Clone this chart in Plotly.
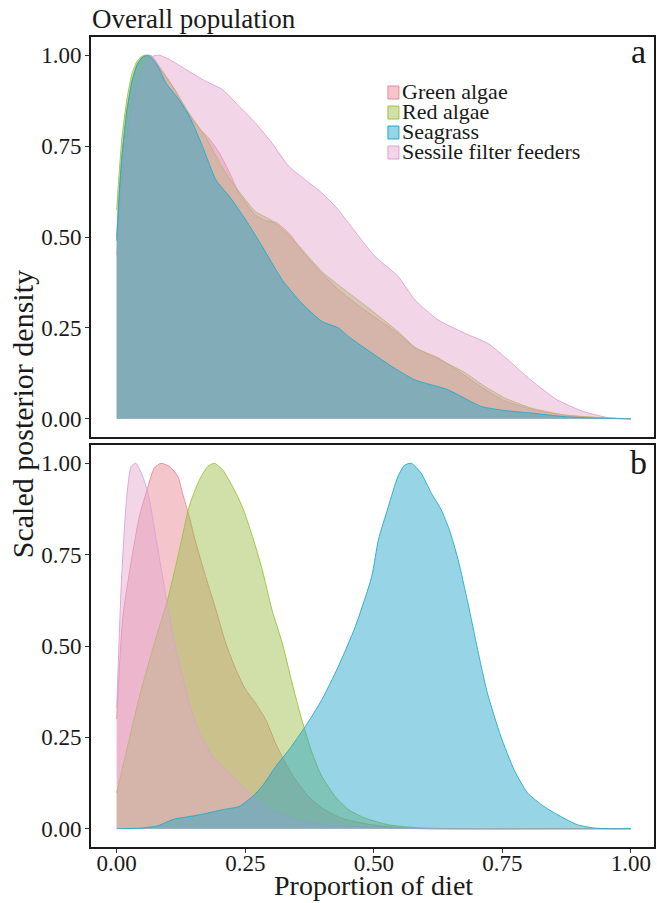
import plotly.graph_objects as go

# ---------------- data ----------------
series_names = ["Green algae", "Red algae", "Seagrass", "Sessile filter feeders"]

# Panel a: overall population
green_algae_a_x = [0, 0.005, 0.01, 0.02, 0.03, 0.04, 0.05, 0.06, 0.068, 0.085, 0.109, 0.141, 0.16, 0.18, 0.2, 0.22,
                   0.238, 0.27, 0.29, 0.31, 0.335, 0.367, 0.399, 0.431, 0.483, 0.547, 0.58, 0.625, 0.676, 0.715,
                   0.754, 0.805, 0.87, 0.934, 1.0]
green_algae_a_y = [0.5, 0.62, 0.72, 0.85, 0.93, 0.975, 0.993, 1.0, 0.998, 0.965, 0.914, 0.836, 0.8, 0.77, 0.73, 0.675,
                   0.62, 0.56, 0.545, 0.54, 0.51, 0.45, 0.4, 0.355, 0.298, 0.235, 0.195, 0.168, 0.12, 0.082,
                   0.05, 0.027, 0.01, 0.003, 0]

red_algae_a_x = [0, 0.005, 0.01, 0.02, 0.03, 0.04, 0.05, 0.055, 0.067, 0.085, 0.109, 0.141, 0.173, 0.206, 0.238,
                 0.27, 0.302, 0.335, 0.367, 0.399, 0.431, 0.483, 0.547, 0.58, 0.625, 0.676, 0.715, 0.754, 0.805,
                 0.87, 0.934, 1.0]
red_algae_a_y = [0.575, 0.68, 0.77, 0.88, 0.95, 0.985, 0.998, 1.0, 0.99, 0.96, 0.914, 0.84, 0.775, 0.69, 0.625,
                 0.57, 0.545, 0.505, 0.455, 0.405, 0.368, 0.312, 0.24, 0.197, 0.165, 0.128, 0.09, 0.058, 0.03,
                 0.011, 0.004, 0]

seagrass_a_x = [0, 0.005, 0.01, 0.02, 0.03, 0.04, 0.05, 0.06, 0.067, 0.08, 0.096, 0.12, 0.141, 0.167, 0.193, 0.219,
                0.251, 0.283, 0.322, 0.36, 0.399, 0.431, 0.451, 0.483, 0.535, 0.58, 0.644, 0.709, 0.754, 0.805,
                0.87, 0.93, 0.97, 1.0]
seagrass_a_y = [0.49, 0.62, 0.72, 0.85, 0.93, 0.975, 0.995, 1.0, 0.995, 0.97, 0.923, 0.88, 0.833, 0.749, 0.657, 0.612,
                0.547, 0.474, 0.382, 0.318, 0.268, 0.25, 0.226, 0.194, 0.144, 0.107, 0.08, 0.034, 0.023, 0.016,
                0.006, 0.002, 0.0005, 0]

sessile_a_x = [0, 0.005, 0.01, 0.02, 0.03, 0.04, 0.05, 0.06, 0.07, 0.083, 0.1, 0.115, 0.141, 0.173, 0.206, 0.238,
               0.27, 0.302, 0.335, 0.367, 0.399, 0.431, 0.451, 0.502, 0.547, 0.58, 0.625, 0.676, 0.721, 0.754,
               0.805, 0.857, 0.908, 0.96, 1.0]
sessile_a_y = [0.45, 0.56, 0.65, 0.77, 0.86, 0.92, 0.96, 0.985, 0.997, 1.0, 0.99, 0.978, 0.955, 0.928, 0.905, 0.859,
               0.813, 0.758, 0.694, 0.657, 0.621, 0.575, 0.538, 0.447, 0.392, 0.327, 0.272, 0.236, 0.208, 0.171,
               0.107, 0.052, 0.02, 0.002, 0]

# Panel b
green_algae_b_x = [0, 0.012, 0.032, 0.044, 0.061, 0.073, 0.086, 0.103, 0.119, 0.128, 0.141, 0.154, 0.173, 0.193,
                   0.212, 0.232, 0.251, 0.27, 0.29, 0.309, 0.328, 0.348, 0.373, 0.399, 0.437, 0.495, 0.55, 0.6, 1.0]
green_algae_b_y = [0.3, 0.581, 0.763, 0.854, 0.937, 0.987, 1.0, 0.991, 0.964, 0.918, 0.854, 0.782, 0.69, 0.599,
                   0.508, 0.435, 0.38, 0.344, 0.298, 0.234, 0.18, 0.134, 0.088, 0.057, 0.029, 0.011, 0.003, 0, 0]

red_algae_b_x = [0, 0.044, 0.077, 0.099, 0.122, 0.141, 0.161, 0.177, 0.19, 0.206, 0.225, 0.244, 0.264, 0.283, 0.302,
                 0.322, 0.341, 0.36, 0.38, 0.399, 0.425, 0.451, 0.483, 0.528, 0.58, 0.65, 1.0]
red_algae_b_y = [0.098, 0.36, 0.526, 0.627, 0.763, 0.882, 0.955, 0.991, 1.0, 0.982, 0.937, 0.882, 0.8, 0.709, 0.599,
                 0.508, 0.399, 0.298, 0.207, 0.143, 0.088, 0.052, 0.029, 0.011, 0.003, 0, 0]

seagrass_b_x = [0, 0.05, 0.08, 0.109, 0.161, 0.206, 0.238, 0.264, 0.283, 0.309, 0.335, 0.367, 0.399, 0.431, 0.464,
                0.496, 0.509, 0.528, 0.547, 0.56, 0.573, 0.592, 0.612, 0.631, 0.647, 0.664, 0.683, 0.702, 0.721,
                0.747, 0.773, 0.799, 0.831, 0.863, 0.896, 0.928, 0.96, 1.0]
seagrass_b_y = [0, 0.002, 0.008, 0.025, 0.038, 0.052, 0.061, 0.088, 0.116, 0.17, 0.216, 0.28, 0.353, 0.444, 0.553,
                0.69, 0.791, 0.88, 0.964, 0.995, 1.0, 0.973, 0.918, 0.873, 0.818, 0.736, 0.618, 0.49, 0.371,
                0.253, 0.161, 0.098, 0.061, 0.034, 0.011, 0.002, 0, 0]

sessile_b_x = [0, 0.009, 0.019, 0.028, 0.037, 0.048, 0.061, 0.077, 0.099, 0.115, 0.128, 0.141, 0.161, 0.186, 0.212,
               0.232, 0.244, 0.264, 0.3, 0.35, 0.4, 0.5, 0.6, 1.0]
sessile_b_y = [0.33, 0.672, 0.9, 0.991, 1.0, 0.973, 0.918, 0.791, 0.608, 0.49, 0.417, 0.344, 0.262, 0.198, 0.161,
               0.134, 0.116, 0.088, 0.05, 0.025, 0.012, 0.003, 0, 0]

x_tick_vals = [0, 0.25, 0.5, 0.75, 1.0]
x_tick_text = ["0.00", "0.25", "0.50", "0.75", "1.00"]
y_tick_vals = [0, 0.25, 0.5, 0.75, 1.0]
y_tick_text = ["0.00", "0.25", "0.50", "0.75", "1.00"]

# ---------------- styling ----------------
line_colors = ["#E58A98", "#9DC23A", "#22AACB", "#D9A3D3"]
fill_colors = ["rgba(231,128,142,0.45)", "rgba(151,186,62,0.45)",
               "rgba(35,163,202,0.47)", "rgba(226,164,204,0.45)"]
draw_order = [0, 1, 3, 2]  # seagrass drawn last
FONT = "Liberation Serif, Times New Roman, serif"

W, H = 657, 903
L, R, T, B = 91, 1, 37, 56
plot_w, plot_h = W - L - R, H - T - B


def px2x(px):
    return (px - L) / plot_w


def py2y(py):
    return (H - B - py) / plot_h


panel_a_top, panel_a_bot = 37, 437
panel_b_top, panel_b_bot = 445, 847

fig = go.Figure()

panel_a = [(green_algae_a_x, green_algae_a_y), (red_algae_a_x, red_algae_a_y),
           (seagrass_a_x, seagrass_a_y), (sessile_a_x, sessile_a_y)]
panel_b = [(green_algae_b_x, green_algae_b_y), (red_algae_b_x, red_algae_b_y),
           (seagrass_b_x, seagrass_b_y), (sessile_b_x, sessile_b_y)]

for panel, xa, ya in [(panel_a, "x2", "y2"), (panel_b, "x", "y")]:
    for i in draw_order:
        xs, ys = panel[i]
        fig.add_trace(go.Scatter(x=xs, y=ys, mode="lines", fill="tozeroy", name=series_names[i],
                                 line=dict(color=line_colors[i], width=0.9, shape="spline", smoothing=0.6),
                                 fillcolor=fill_colors[i], showlegend=False, xaxis=xa, yaxis=ya))

axis_common = dict(showgrid=False, zeroline=False, showline=True, mirror=True,
                   linecolor="#1a1a1a", linewidth=1.6)
xrange = [-0.05, 1.045]
yrange = [-0.05, 1.05]
tickfont = dict(size=23, family=FONT, color="#1a1a1a")

fig.update_layout(
    width=W, height=H,
    margin=dict(l=L, r=R, t=T, b=B),
    paper_bgcolor="white", plot_bgcolor="white",
    font=dict(family=FONT, color="#1a1a1a"),
    xaxis=dict(domain=[0, 1], range=xrange, anchor="y", tickvals=x_tick_vals, ticktext=x_tick_text,
               ticks="outside", ticklen=4, tickwidth=1, tickcolor="#333", tickfont=tickfont,
               ticklabelstandoff=-9, **axis_common),
    yaxis=dict(domain=[0, py2y(panel_b_top)], range=yrange, anchor="x", tickvals=y_tick_vals,
               ticktext=y_tick_text, ticks="outside", ticklen=4, tickwidth=1, tickcolor="#333",
               tickfont=tickfont, ticklabelstandoff=-1, **axis_common),
    xaxis2=dict(domain=[0, 1], range=xrange, anchor="y2", showticklabels=False, ticks="", **axis_common),
    yaxis2=dict(domain=[py2y(panel_a_bot), 1], range=yrange, anchor="x2", tickvals=y_tick_vals,
                ticktext=y_tick_text, ticks="outside", ticklen=4, tickwidth=1, tickcolor="#333",
                tickfont=tickfont, ticklabelstandoff=-1, **axis_common),
)

annotations = [
    dict(text="Overall population", x=px2x(90), y=py2y(19), xanchor="left", yanchor="middle",
         font=dict(size=27, family=FONT, color="#1a1a1a")),
    dict(text="Scaled posterior density", x=px2x(22), y=py2y(414), xanchor="center", yanchor="middle",
         textangle=-90, font=dict(size=30, family=FONT, color="#1a1a1a")),
    dict(text="Proportion of diet", x=px2x(375), y=py2y(886), xanchor="center", yanchor="middle",
         font=dict(size=28, family=FONT, color="#1a1a1a")),
    dict(text="a", x=px2x(640), y=py2y(52), xanchor="center", yanchor="middle",
         font=dict(size=34, family=FONT, color="#1a1a1a")),
    dict(text="b", x=px2x(640), y=py2y(462), xanchor="center", yanchor="middle",
         font=dict(size=34, family=FONT, color="#1a1a1a")),
]

# custom legend
legend_rows = [92, 112, 132, 152]
shapes = []
for i, name in enumerate(series_names):
    cy = legend_rows[i]
    shapes.append(dict(type="rect", xref="paper", yref="paper",
                       x0=px2x(389), x1=px2x(400), y0=py2y(cy + 7), y1=py2y(cy - 6),
                       fillcolor=fill_colors[i], line=dict(color=line_colors[i], width=1)))
    annotations.append(dict(text=name, x=px2x(401), y=py2y(cy), xanchor="left", yanchor="middle",
                            font=dict(size=22, family=FONT, color="#1a1a1a")))

for a in annotations:
    a.update(xref="paper", yref="paper", showarrow=False)

fig.update_layout(annotations=annotations, shapes=shapes)
fig.write_html("out.html", config={"displayModeBar": False},
               post_script="document.body.style.margin='0';document.body.style.overflow='hidden';")
